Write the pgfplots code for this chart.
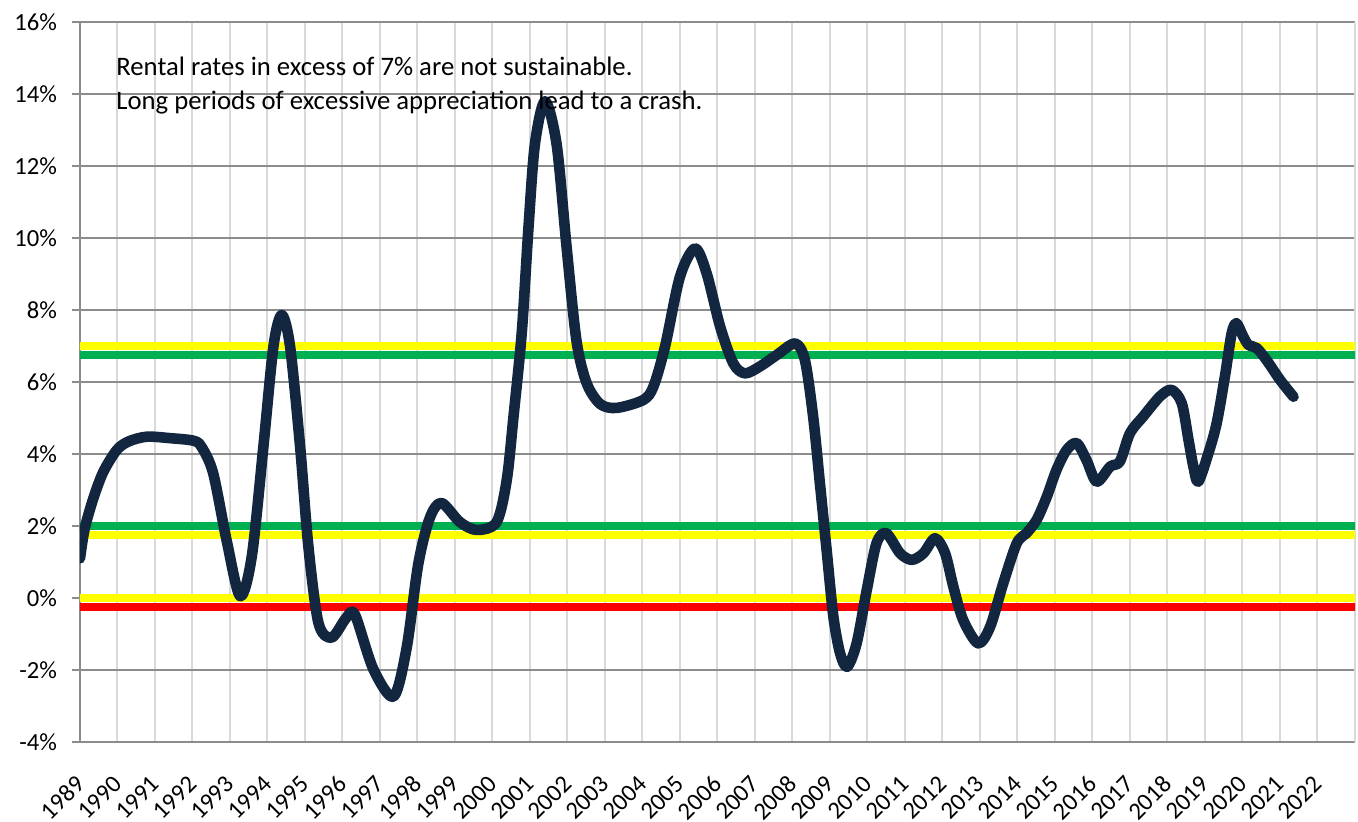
\documentclass[border=0pt]{standalone}
\usepackage{fontspec}
\setmainfont{Carlito}
\usepackage{pgfplots}
\pgfplotsset{compat=1.18}
\definecolor{navy}{HTML}{12263F}
\definecolor{bandgreen}{HTML}{00B050}
\definecolor{bandyellow}{HTML}{FFFF00}
\definecolor{bandred}{HTML}{FF0000}
\definecolor{hgrid}{HTML}{8C8C8C}
\definecolor{vgrid}{HTML}{D9D9D9}
\begin{document}
\begin{tikzpicture}
\begin{axis}[
  scale only axis, width=637.5pt, height=360pt,
  xmin=1989, xmax=2023, ymin=-4, ymax=16,
  axis x line*=bottom, axis y line*=left,
  axis line style={color=hgrid, line width=0.8pt},
  xtick={1989,...,2022},
  xticklabels={1989,1990,1991,1992,1993,1994,1995,1996,1997,1998,1999,2000,2001,2002,2003,2004,2005,2006,2007,2008,2009,2010,2011,2012,2013,2014,2015,2016,2017,2018,2019,2020,2021,2022},
  extra x ticks={2023}, extra x tick labels={},
  ytick={-4,-2,...,16},
  yticklabels={-4\%,-2\%,0\%,2\%,4\%,6\%,8\%,10\%,12\%,14\%,16\%},
  xmajorgrids, ymajorgrids,
  x grid style={color=vgrid, line width=1pt},
  y grid style={color=hgrid, line width=0.7pt},
  tick align=outside,
  xtick style={draw=none},
  ytick style={color=hgrid, line width=0.7pt},
  major tick length=4pt,
  tick label style={font=\fontsize{12.3}{14}\selectfont},
  xticklabel style={xshift=2.5pt, yshift=-12.5pt, rotate=45, anchor=east},
  yticklabel style={xshift=-4pt},
]
\addplot[bandyellow, line width=3.6pt, line cap=round] coordinates {(1989,7) (2023,7)};
\addplot[bandgreen, line width=3.6pt, line cap=round] coordinates {(1989,6.75) (2023,6.75)};
\addplot[bandgreen, line width=3.6pt, line cap=round] coordinates {(1989,2) (2023,2)};
\addplot[bandyellow, line width=3.6pt, line cap=round] coordinates {(1989,1.75) (2023,1.75)};
\addplot[bandyellow, line width=3.6pt, line cap=round] coordinates {(1989,0) (2023,0)};
\addplot[bandred, line width=3.6pt, line cap=round] coordinates {(1989,-0.25) (2023,-0.25)};
\addplot[navy, line width=5.3pt, line cap=round, line join=round, smooth, tension=0.5] coordinates {
(1989.00,1.1) (1989.12,1.9) (1989.35,2.75) (1989.62,3.5) (1989.98,4.11)
(1990.3,4.35) (1990.78,4.48) (1991.4,4.44) (1992.02,4.37) (1992.24,4.2) (1992.55,3.47)
(1992.91,1.6) (1993.27,0.05) (1993.58,1.15) (1993.89,4.2) (1994.16,7.0) (1994.38,7.86)
(1994.6,7.0) (1994.87,4.2) (1995.09,1.43) (1995.36,-0.7) (1995.71,-1.1) (1996.1,-0.55)
(1996.33,-0.46) (1996.82,-1.97) (1997.36,-2.74) (1997.71,-1.39) (1998.02,0.94) (1998.33,2.23)
(1998.64,2.64) (1999.13,2.11) (1999.58,1.89) (2000.11,2.11) (2000.38,3.28) (2000.56,5.04)
(2000.78,7.37) (2000.96,10.3) (2001.13,12.6) (2001.4,13.8) (2001.71,12.6) (2001.98,9.7)
(2002.24,7.14) (2002.51,5.97) (2002.87,5.39) (2003.31,5.28) (2004.02,5.5) (2004.29,5.87)
(2004.6,6.98) (2005.0,8.93) (2005.4,9.71) (2005.71,9.02) (2006.07,7.54) (2006.42,6.52)
(2006.73,6.24) (2007.13,6.43) (2007.58,6.75) (2008.07,7.07) (2008.33,6.61) (2008.55,5.04)
(2008.73,3.19) (2008.91,1.33) (2009.09,-0.52) (2009.27,-1.54) (2009.46,-1.91) (2009.71,-1.26)
(2009.98,0.22) (2010.24,1.52) (2010.5,1.8) (2010.87,1.24) (2011.18,1.06) (2011.49,1.24)
(2011.8,1.66) (2012.07,1.24) (2012.29,0.31) (2012.55,-0.61) (2012.95,-1.26) (2013.27,-0.8)
(2013.62,0.41) (2013.98,1.52) (2014.24,1.8) (2014.51,2.17) (2014.78,2.81) (2015.04,3.56)
(2015.31,4.11) (2015.58,4.3) (2015.84,3.83) (2016.11,3.23) (2016.47,3.65) (2016.73,3.79)
(2017.0,4.58) (2017.35,5.04) (2017.8,5.6) (2018.11,5.78) (2018.38,5.41) (2018.56,4.39)
(2018.69,3.65) (2018.82,3.23) (2019.09,4.02) (2019.31,4.85) (2019.53,6.15) (2019.71,7.35)
(2019.84,7.63) (2020.02,7.26) (2020.16,7.03) (2020.38,6.94) (2020.64,6.61) (2021.0,6.06)
(2021.36,5.59)
};
\node[anchor=base west, inner sep=0pt, font=\fontsize{13.35}{15}\selectfont] at (axis cs:1989.96,14.5) {Rental rates in excess of 7\% are not sustainable.};
\node[anchor=base west, inner sep=0pt, font=\fontsize{13.35}{15}\selectfont] at (axis cs:1989.96,13.58) {Long periods of excessive appreciation lead to a crash.};
\coordinate (bl) at (rel axis cs:0,0);
\coordinate (tr) at (rel axis cs:1,1);
\end{axis}
\pgfresetboundingbox
\path ([shift={(-40pt,-40pt)}]bl) rectangle ([shift={(1.5pt,11pt)}]tr);
\end{tikzpicture}
\end{document}
